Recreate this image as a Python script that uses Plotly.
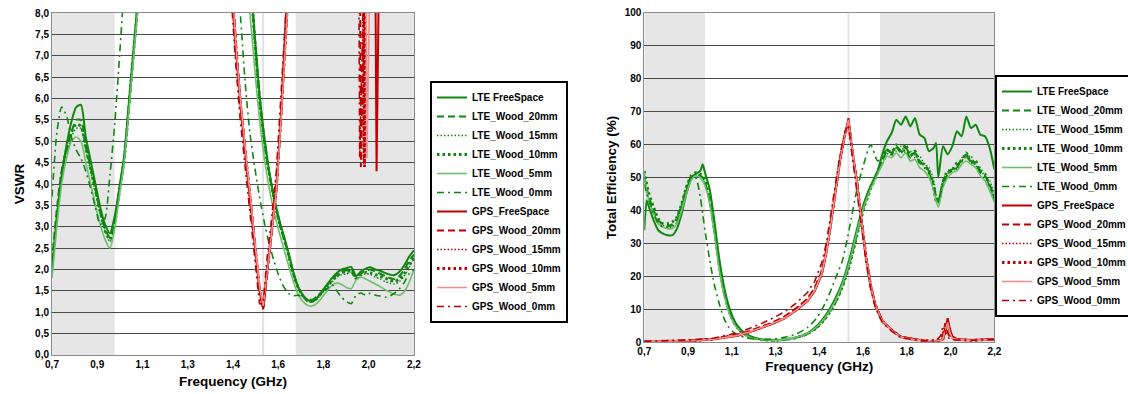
import plotly.graph_objects as go

# ---------------- data ----------------
lte_names = ['LTE FreeSpace', 'LTE_Wood_20mm', 'LTE_Wood_15mm', 'LTE_Wood_10mm', 'LTE_Wood_5mm', 'LTE_Wood_0mm']
gps_names = ['GPS_FreeSpace', 'GPS_Wood_20mm', 'GPS_Wood_15mm', 'GPS_Wood_10mm', 'GPS_Wood_5mm', 'GPS_Wood_0mm']
x_tick_labels = ['0,7', '0,9', '1,1', '1,3', '1,4', '1,6', '1,8', '2,0', '2,2']

# VSWR - LTE feed
vswr_lte_freq = [0.70, 0.72, 0.74, 0.76, 0.78, 0.80, 0.82, 0.84, 0.86, 0.88, 0.90, 0.92, 0.94, 0.96, 0.98,
                 1.00, 1.02, 1.04, 1.06, 1.10, 1.40, 1.46, 1.48, 1.50, 1.52, 1.54, 1.56, 1.58, 1.60, 1.62,
                 1.64, 1.66, 1.68, 1.70, 1.72, 1.74, 1.76, 1.78, 1.80, 1.82, 1.84, 1.86, 1.88, 1.90, 1.92,
                 1.94, 1.96, 1.98, 2.00, 2.02, 2.04, 2.06, 2.08, 2.10, 2.12, 2.14, 2.16, 2.18, 2.20]
vswr_lte_free = [2.0, 3.2, 4.2, 4.9, 5.45, 5.8, 5.85, 5.1, 4.55, 4.0, 3.45, 3.05, 2.85, 3.25, 3.95, 4.7, 6.0, 7.3, 8.6, 11.5,
                 16, 12.5, 11.2, 10.0, 9.0, 7.5, 6.1, 5.1, 4.3, 3.7, 3.2, 2.8, 2.4, 1.95, 1.6, 1.4, 1.28, 1.27, 1.35, 1.5,
                 1.65, 1.8, 1.92, 2.0, 2.03, 2.06, 1.85, 1.95, 2.02, 2.05, 2.0, 1.97, 1.92, 1.88, 1.87, 1.95, 2.1, 2.3, 2.45]
vswr_lte_w20 = [2.2, 3.4, 4.3, 4.8, 5.2, 5.5, 5.5, 4.9, 4.4, 3.9, 3.35, 2.95, 2.75, 3.15, 3.9, 4.65, 5.9, 7.2, 8.5, 11.4,
                16, 12.4, 11.1, 9.9, 8.9, 7.4, 6.0, 5.0, 4.25, 3.65, 3.15, 2.75, 2.35, 1.9, 1.58, 1.38, 1.26, 1.25, 1.33, 1.48,
                1.62, 1.76, 1.88, 1.95, 1.98, 2.0, 1.82, 1.9, 1.97, 2.0, 1.95, 1.9, 1.85, 1.8, 1.78, 1.85, 2.0, 2.2, 2.35]
vswr_lte_w15 = [2.1, 3.3, 4.2, 4.7, 5.1, 5.3, 5.3, 4.8, 4.3, 3.8, 3.3, 2.9, 2.65, 3.1, 3.85, 4.6, 5.85, 7.15, 8.45, 11.3,
                16, 12.3, 11.0, 9.8, 8.8, 7.3, 5.9, 4.9, 4.2, 3.6, 3.1, 2.7, 2.3, 1.88, 1.55, 1.36, 1.25, 1.24, 1.32, 1.45,
                1.58, 1.7, 1.82, 1.88, 1.9, 1.92, 1.78, 1.85, 1.9, 1.88, 1.82, 1.78, 1.72, 1.68, 1.66, 1.72, 1.85, 2.05, 2.25]
vswr_lte_w10 = [2.05, 3.25, 4.25, 4.8, 5.2, 5.4, 5.35, 4.85, 4.35, 3.85, 3.35, 2.9, 2.7, 3.1, 3.85, 4.6, 5.9, 7.2, 8.5, 11.4,
                16, 12.4, 11.1, 9.9, 8.9, 7.4, 6.0, 5.0, 4.25, 3.65, 3.15, 2.75, 2.35, 1.9, 1.58, 1.38, 1.27, 1.26, 1.34, 1.48,
                1.62, 1.75, 1.85, 1.92, 1.95, 1.96, 1.8, 1.88, 1.93, 1.92, 1.88, 1.84, 1.8, 1.75, 1.72, 1.78, 1.9, 2.1, 2.3]
vswr_lte_w5 = [1.8, 3.0, 4.0, 4.6, 5.0, 5.1, 5.0, 4.5, 4.0, 3.5, 3.05, 2.7, 2.5, 2.95, 3.75, 4.55, 5.8, 7.1, 8.4, 11.2,
               15.5, 12.0, 10.7, 9.2, 8.0, 6.7, 5.5, 4.6, 3.9, 3.35, 2.9, 2.5, 2.1, 1.72, 1.42, 1.25, 1.16, 1.15, 1.22, 1.35,
               1.5, 1.63, 1.68, 1.65, 1.58, 1.55, 1.75, 1.82, 1.78, 1.72, 1.66, 1.6, 1.53, 1.47, 1.42, 1.4, 1.48, 1.7, 2.0]
vswr_lte_w0 = [3.7, 5.2, 5.8, 5.6, 5.1, 4.8, 4.6, 4.3, 3.9, 3.45, 3.05, 3.2, 4.2, 5.4, 7.0, 8.7, 10.3, 12, 13, 15,
               12, 9.0, 8.0, 6.4, 5.2, 4.4, 3.7, 3.1, 2.6, 2.2, 1.85, 1.6, 1.44, 1.38, 1.4, 1.35, 1.3, 1.3, 1.38, 1.5,
               1.55, 1.65, 1.5, 1.35, 1.25, 1.2, 1.4, 1.45, 1.4, 1.45, 1.4, 1.38, 1.35, 1.38, 1.45, 1.55, 1.7, 1.9, 2.0]

# VSWR - GPS feed
vswr_gps_freq = [1.40, 1.44, 1.46, 1.48, 1.50, 1.52, 1.54, 1.56, 1.575, 1.59, 1.61, 1.63, 1.65, 1.67, 1.70, 1.80,
                 1.90, 1.96, 1.97, 1.975, 1.98, 1.985, 1.99, 1.995, 2.00, 2.005, 2.01, 2.04, 2.045, 2.055, 2.10, 2.20]
vswr_gps_free = [13, 9.0, 7.3, 5.9, 4.8, 3.7, 2.6, 1.5, 1.07, 1.9, 2.9, 3.9, 5.7, 8.0, 12, 25,
                 30, 25, 22, 22, 22, 22, 22, 22, 22, 22, 22, 9.0, 4.3, 9.0, 25, 30]
vswr_gps_w20 = [13, 9.2, 7.5, 6.0, 4.9, 3.8, 2.7, 1.6, 1.12, 1.85, 2.85, 3.85, 5.6, 7.9, 12, 25,
                30, 25, 18, 11, 4.4, 11, 18, 22, 22, 22, 22, 22, 22, 22, 25, 30]
vswr_gps_w15 = [13, 9.1, 7.4, 5.95, 4.85, 3.75, 2.65, 1.55, 1.1, 1.88, 2.88, 3.88, 5.65, 7.95, 12, 25,
                30, 25, 22, 18, 15, 11, 4.5, 11, 18, 22, 22, 22, 22, 22, 25, 30]
vswr_gps_w10 = [13, 9.0, 7.35, 5.9, 4.8, 3.7, 2.6, 1.5, 1.1, 1.9, 2.9, 3.9, 5.7, 8.0, 12, 25,
                30, 25, 22, 20, 18, 15, 11, 4.4, 11, 18, 22, 22, 22, 22, 25, 30]
vswr_gps_w5 = [13, 9.1, 7.4, 6.0, 4.9, 3.8, 2.7, 1.6, 1.15, 1.85, 2.85, 3.85, 5.6, 7.9, 12, 25,
               30, 25, 22, 22, 20, 18, 15, 13, 11, 4.6, 11, 22, 22, 22, 25, 30]
vswr_gps_w0 = [12, 8.5, 6.9, 5.5, 4.4, 3.3, 2.2, 1.2, 1.2, 2.2, 3.2, 4.3, 6.2, 8.6, 13, 25,
               30, 18, 11, 4.6, 11, 18, 22, 22, 22, 22, 22, 22, 22, 22, 25, 30]

# Total efficiency (%) - LTE feed
eff_lte_freq = [0.70, 0.71, 0.72, 0.74, 0.76, 0.78, 0.80, 0.82, 0.84, 0.86, 0.88, 0.90, 0.92, 0.94, 0.95, 0.96,
                0.98, 1.00, 1.02, 1.04, 1.06, 1.08, 1.10, 1.13, 1.16, 1.20, 1.25, 1.30, 1.35, 1.40, 1.44, 1.48,
                1.52, 1.55, 1.58, 1.61, 1.64, 1.67, 1.70, 1.72, 1.74, 1.76, 1.78, 1.80, 1.82, 1.84, 1.86, 1.88,
                1.90, 1.92, 1.94, 1.95, 1.96, 1.98, 2.00, 2.02, 2.04, 2.06, 2.08, 2.10, 2.12, 2.14, 2.16, 2.18, 2.20]
eff_lte_free = [34, 43, 41, 37, 34, 33, 32.5, 32.5, 34.5, 39, 45, 49.5, 51, 52, 54, 51.5,
                46.5, 37, 26, 17.5, 11.5, 7.5, 5.0, 2.8, 1.7, 0.9, 0.6, 0.8, 1.5, 2.8, 5.0, 8.5,
                13.5, 18.5, 25.5, 34, 42, 47.5, 52, 57, 61, 63.5, 67.5, 66, 68.5, 65.5, 68, 63,
                62, 58, 59, 60.5, 50, 59.5, 57, 59.5, 64, 62.5, 68.5, 65, 66, 63, 62.5, 59, 52.5]
eff_lte_w20 = [50, 47, 44, 40, 37, 36, 35.5, 35.5, 37, 41, 46, 50, 51, 50.5, 50, 48.5,
               43, 34, 23.5, 15.5, 10, 6.5, 4.3, 2.4, 1.4, 0.8, 0.6, 0.8, 1.4, 2.6, 4.6, 7.8,
               12.5, 17.5, 24, 32.5, 41, 47, 52, 55, 58, 57.5, 59.5, 58, 59, 57, 57.5, 55,
               53.5, 52, 48, 44, 43, 49, 51.5, 52.5, 53.5, 55.5, 57, 55, 54.5, 52, 50.5, 48, 44]
eff_lte_w15 = [51, 46, 43, 39.5, 36.5, 35.5, 35, 35, 36.5, 40.5, 45.5, 49.5, 50.5, 50, 49.5, 48,
               42.5, 33.5, 23, 15, 9.8, 6.3, 4.2, 2.3, 1.4, 0.8, 0.6, 0.8, 1.4, 2.5, 4.5, 7.5,
               12, 17, 23.5, 32, 40.5, 47, 51.5, 54, 57, 58.5, 58, 59.5, 57.5, 58, 56, 56.5,
               54, 53, 49, 45, 42, 48, 50.5, 53, 52.5, 56, 56, 56.5, 53.5, 53, 50, 49, 45]
eff_lte_w10 = [52, 48, 45, 41, 37.5, 36, 36, 36.5, 38, 42, 47, 50.5, 51.5, 51, 50.5, 49,
               43.5, 34.5, 24, 16, 10.2, 6.6, 4.4, 2.4, 1.4, 0.8, 0.6, 0.8, 1.4, 2.6, 4.5, 7.6,
               12.2, 17, 23.5, 32, 40.5, 46.5, 51.5, 55.5, 58.5, 57, 60, 57.5, 60, 56.5, 58, 54.5,
               54, 51.5, 47, 43, 42.5, 48.5, 52, 52, 54.5, 55, 57.5, 54.5, 55, 51.5, 51, 47, 43.5]
eff_lte_w5 = [50, 46, 43, 39, 36, 35, 34.5, 34.5, 36, 40, 45, 49, 50.5, 50, 49, 47.5,
              42, 33, 22.5, 14.8, 9.6, 6.2, 4.1, 2.3, 1.3, 0.8, 0.6, 0.8, 1.5, 2.7, 4.8, 8.0,
              12.8, 17.8, 24.5, 33, 41, 46.5, 51, 54, 56.5, 56, 57.5, 56, 57.5, 55, 55.5, 53,
              52, 50, 46, 43, 41, 47, 50, 51.5, 52, 54, 55, 54, 53, 50.5, 49, 46, 42.5]
eff_lte_w0 = [48, 45, 43, 39, 36, 35, 35, 36, 38, 42, 47, 50, 50, 44, 39, 34,
              25, 17.5, 12, 7.5, 4.7, 3.2, 2.3, 1.5, 1.1, 0.9, 1.0, 1.5, 2.5, 4.5, 7.5, 12.5,
              19.5, 25, 35, 46, 54, 60, 55, 56, 58.5, 57, 59, 57.5, 58.5, 56, 57, 54.5,
              53, 51.5, 47.5, 44.5, 43, 48, 51, 52, 53, 55, 56.5, 54.5, 54, 51.5, 50, 47.5, 43.5]

# Total efficiency (%) - GPS feed
eff_gps_freq = [0.70, 0.80, 0.90, 1.00, 1.05, 1.10, 1.15, 1.20, 1.25, 1.30, 1.35, 1.40, 1.43, 1.46, 1.48, 1.50,
                1.52, 1.54, 1.56, 1.575, 1.59, 1.61, 1.63, 1.65, 1.67, 1.69, 1.72, 1.76, 1.80, 1.85, 1.90, 1.95,
                1.97, 1.98, 1.99, 2.00, 2.01, 2.02, 2.04, 2.10, 2.20]
eff_gps_free = [0.2, 0.3, 0.5, 0.9, 1.4, 2.0, 3.0, 4.2, 5.6, 7.2, 9.6, 12.5, 15.5, 20.5, 27, 36,
                46.5, 55.5, 63, 68, 59, 49.5, 37.5, 26, 17.5, 11.5, 6.5, 3.8, 1.7, 1.0, 0.5, 0.4,
                0.6, 1.0, 3.0, 7.3, 4.0, 1.8, 1.0, 0.7, 1.0]
eff_gps_w20 = [0.2, 0.3, 0.6, 1.1, 1.7, 2.4, 3.4, 4.6, 6.0, 7.8, 10.3, 13.3, 16.5, 21.5, 28, 37,
               47, 56, 63, 67, 58.5, 49, 37, 25.5, 17, 11, 6.3, 3.6, 1.6, 0.9, 0.5, 0.4,
               0.8, 2.5, 5.8, 3.0, 1.5, 1.0, 0.8, 0.6, 0.9]
eff_gps_w15 = [0.2, 0.3, 0.5, 1.0, 1.5, 2.1, 3.1, 4.3, 5.7, 7.4, 9.8, 12.8, 15.8, 21, 27.5, 36.5,
               47, 56, 63.5, 67.5, 58.5, 49, 37, 25.5, 17, 11.2, 6.3, 3.7, 1.6, 0.9, 0.5, 0.4,
               0.6, 1.2, 4.5, 5.5, 2.5, 1.2, 0.9, 0.6, 0.9]
eff_gps_w10 = [0.2, 0.3, 0.5, 1.0, 1.5, 2.2, 3.2, 4.4, 5.8, 7.5, 10, 13, 16, 21, 27.5, 36.5,
               47, 56, 63, 67, 58.5, 49, 37.5, 26, 17.2, 11.3, 6.4, 3.7, 1.6, 0.9, 0.5, 0.4,
               0.5, 1.0, 3.5, 6.5, 3.0, 1.3, 0.9, 0.6, 0.9]
eff_gps_w5 = [0.2, 0.3, 0.5, 0.95, 1.45, 2.1, 3.1, 4.3, 5.7, 7.3, 9.7, 12.7, 15.7, 20.8, 27.2, 36.2,
              46.8, 55.8, 63, 67.5, 58.8, 49.2, 37.2, 25.8, 17.2, 11.3, 6.4, 3.7, 1.6, 0.9, 0.5, 0.4,
              0.6, 1.1, 4.0, 6.0, 2.8, 1.2, 0.9, 0.6, 0.9]
eff_gps_w0 = [0.3, 0.4, 0.7, 1.3, 2.0, 2.9, 4.2, 5.6, 7.3, 9.2, 11.8, 15.2, 18.5, 24, 30, 39,
              49, 57.5, 64, 66, 57, 47, 35.5, 24.5, 16.2, 10.5, 6.0, 3.4, 1.5, 0.8, 0.5, 0.5,
              2.0, 5.0, 3.0, 1.5, 1.0, 0.8, 0.7, 0.6, 0.9]

# ---------------- styles ----------------
GREEN, GREEN_LT = '#0f870f', '#6cbf6c'
RED, RED_LT = '#c00000', '#f09090'
styles = [  # FreeSpace, 20, 15, 10, 5, 0 mm
    dict(dash='solid', width=2),
    dict(dash='7px,4px', width=2),
    dict(dash='1.5px,2px', width=1.5),
    dict(dash='2.5px,3px', width=2.8),
    dict(dash='solid', width=1.6),
    dict(dash='7px,4px,2px,4px', width=1.6),
]

FONT = 'Liberation Sans, Arial, sans-serif'
fig = go.Figure()


def add_group(freq, series, names, dark, light, xa, ya, legend, shape):
    for i, (vals, name) in enumerate(zip(series, names)):
        st = styles[i]
        color = light if i == 4 else dark
        fig.add_trace(go.Scatter(
            x=freq, y=vals, name=name, mode='lines', xaxis=xa, yaxis=ya, legend=legend,
            line=dict(color=color, width=st['width'], dash=st['dash'], shape=shape,
                      smoothing=0.6 if shape == 'spline' else None),
            hoverinfo='skip'))


add_group(vswr_lte_freq, [vswr_lte_free, vswr_lte_w20, vswr_lte_w15, vswr_lte_w10, vswr_lte_w5, vswr_lte_w0],
          lte_names, GREEN, GREEN_LT, 'x', 'y', 'legend', 'spline')
add_group(vswr_gps_freq, [vswr_gps_free, vswr_gps_w20, vswr_gps_w15, vswr_gps_w10, vswr_gps_w5, vswr_gps_w0],
          gps_names, RED, RED_LT, 'x', 'y', 'legend', 'linear')
add_group(eff_lte_freq, [eff_lte_free, eff_lte_w20, eff_lte_w15, eff_lte_w10, eff_lte_w5, eff_lte_w0],
          lte_names, GREEN, GREEN_LT, 'x2', 'y2', 'legend2', 'spline')
add_group(eff_gps_freq, [eff_gps_free, eff_gps_w20, eff_gps_w15, eff_gps_w10, eff_gps_w5, eff_gps_w0],
          gps_names, RED, RED_LT, 'x2', 'y2', 'legend2', 'linear')

# LTE bands shaded, GPS L1 marker line
shapes = []
for xr, yr in (('x', 'y domain'), ('x2', 'y2 domain')):
    for x0, x1 in ((0.7, 0.96), (1.71, 2.2)):
        shapes.append(dict(type='rect', xref=xr, yref=yr, x0=x0, x1=x1, y0=0, y1=1,
                           fillcolor='#e6e6e6', line_width=0, layer='below'))
    shapes.append(dict(type='line', xref=xr, yref=yr, x0=1.575, x1=1.575, y0=0, y1=1,
                       line=dict(color='#e2e2e2', width=2), layer='below'))

tick_font = dict(family=FONT, size=10, color='black', weight='bold')
title_font = dict(family=FONT, size=13.5, color='black', weight='bold')
xtick_pos = [0.7 + k * 1.5 / 8 for k in range(9)]
xcommon = dict(range=[0.7, 2.2], tickvals=xtick_pos, ticktext=x_tick_labels, showgrid=False,
               showline=True, linecolor='#8c8c8c', linewidth=1, mirror=True, ticks='', zeroline=False,
               tickfont=tick_font)
ycommon = dict(showgrid=True, gridcolor='#4a4a4a', gridwidth=1, showline=True, linecolor='#8c8c8c',
               linewidth=1, mirror=True, ticks='', zeroline=False, tickfont=tick_font)

legend_common = dict(bgcolor='white', bordercolor='black', borderwidth=2, itemwidth=30,
                     font=dict(family=FONT, size=10, color='black', weight='bold'),
                     xanchor='left', yanchor='middle', tracegroupgap=0, itemclick=False)

fig.update_layout(
    width=1128, height=394,
    margin=dict(l=0, r=0, t=0, b=0, autoexpand=False),
    paper_bgcolor='white', plot_bgcolor='white',
    separators=',.',
    shapes=shapes,
    xaxis=dict(domain=[0.0461, 0.3670], anchor='y',
               title=dict(text='Frequency (GHz)', font=title_font, standoff=7), **xcommon),
    yaxis=dict(domain=[0.099, 0.967], anchor='x', range=[0, 8], dtick=0.5, tickformat='.1f',
               title=dict(text='VSWR', font=title_font, standoff=7), **ycommon),
    xaxis2=dict(domain=[0.5712, 0.8815], anchor='y2',
                title=dict(text='Frequency (GHz)', font=title_font, standoff=5), **xcommon),
    yaxis2=dict(domain=[0.1312, 0.9678], anchor='x2', range=[0, 100], dtick=10, tickformat='d',
                title=dict(text='Total Efficiency (%)', font=title_font, standoff=4), **ycommon),
    legend=dict(x=430 / 1128, y=1 - 202 / 394, **legend_common),
    legend2=dict(x=995 / 1128, y=1 - 196 / 394, **legend_common),
    showlegend=True,
)

# drop the default page margin so the figure sits at the window's top-left corner
fig.write_html("out.html", config={'displayModeBar': False},
               post_script="document.body.style.margin='0px';")
